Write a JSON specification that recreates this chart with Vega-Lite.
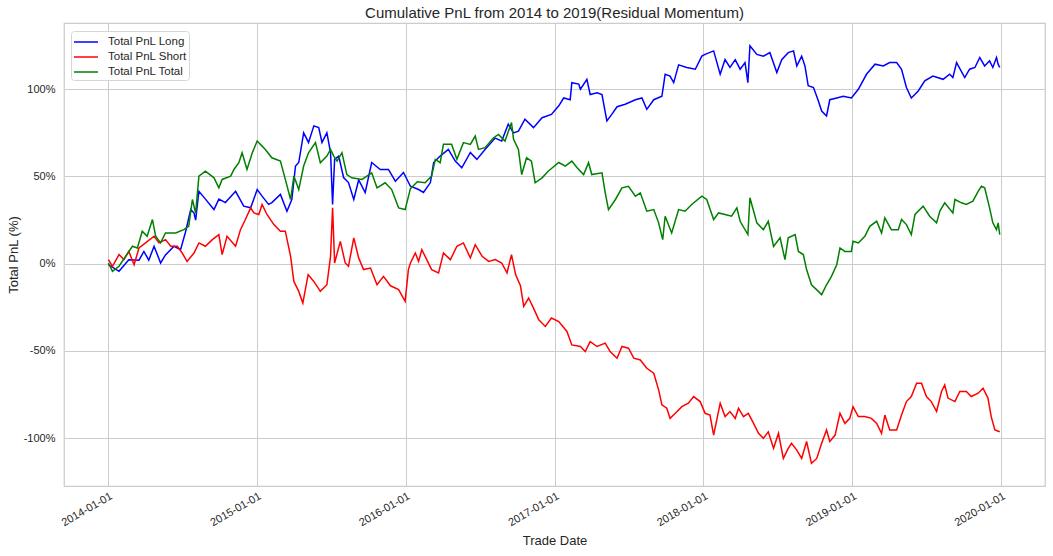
{
  "$schema": "https://vega.github.io/schema/vega-lite/v6.json",
  "width": 981,
  "height": 463,
  "autosize": {"type": "none"},
  "padding": {"left": 64, "top": 23, "right": 8, "bottom": 70},
  "background": "white",
  "config": {
    "font": "Liberation Sans",
    "view": {"stroke": "#cccccc", "strokeWidth": 1.25},
    "axis": {"domain": false, "ticks": false, "gridColor": "#cccccc", "gridWidth": 1, "labelColor": "#262626", "titleColor": "#262626", "labelFontSize": 11, "titleFontSize": 13, "titleFontWeight": "normal"}
  },
  "title": {"text": "Cumulative PnL from 2014 to 2019(Residual Momentum)", "fontSize": 15, "fontWeight": "normal", "color": "#262626", "offset": 2, "anchor": "middle"},
  "data": {"values": [
    {"d":"2014-01-02","s":"Long","v":-0.6},{"d":"2014-01-28","s":"Long","v":-4.4},{"d":"2014-02-21","s":"Long","v":2.3},{"d":"2014-03-18","s":"Long","v":2},{"d":"2014-03-30","s":"Long","v":7},{"d":"2014-04-11","s":"Long","v":2},{"d":"2014-04-24","s":"Long","v":10},{"d":"2014-05-10","s":"Long","v":0.4},{"d":"2014-05-22","s":"Long","v":5},{"d":"2014-06-12","s":"Long","v":10},{"d":"2014-06-28","s":"Long","v":8},{"d":"2014-07-10","s":"Long","v":18},{"d":"2014-07-23","s":"Long","v":31},{"d":"2014-07-31","s":"Long","v":29},{"d":"2014-08-04","s":"Long","v":25},{"d":"2014-08-12","s":"Long","v":41.5},{"d":"2014-08-28","s":"Long","v":37},{"d":"2014-09-18","s":"Long","v":31},{"d":"2014-09-30","s":"Long","v":37},{"d":"2014-10-16","s":"Long","v":35},{"d":"2014-11-10","s":"Long","v":41.5},{"d":"2014-11-30","s":"Long","v":33},{"d":"2014-12-17","s":"Long","v":32},
    {"d":"2015-01-02","s":"Long","v":42.5},{"d":"2015-01-14","s":"Long","v":38.7},{"d":"2015-01-30","s":"Long","v":34},{"d":"2015-02-07","s":"Long","v":35},{"d":"2015-02-28","s":"Long","v":39.7},{"d":"2015-03-16","s":"Long","v":30},{"d":"2015-03-28","s":"Long","v":36.8},{"d":"2015-04-06","s":"Long","v":56},{"d":"2015-04-14","s":"Long","v":58},{"d":"2015-04-26","s":"Long","v":75},{"d":"2015-05-08","s":"Long","v":69.5},{"d":"2015-05-21","s":"Long","v":79},{"d":"2015-06-02","s":"Long","v":78},{"d":"2015-06-10","s":"Long","v":69.5},{"d":"2015-06-22","s":"Long","v":75},{"d":"2015-07-01","s":"Long","v":63.8},{"d":"2015-07-06","s":"Long","v":34},{"d":"2015-07-11","s":"Long","v":59.8},{"d":"2015-07-21","s":"Long","v":61.7},{"d":"2015-08-02","s":"Long","v":49.4},{"d":"2015-08-14","s":"Long","v":46.5},{"d":"2015-08-27","s":"Long","v":36.8},{"d":"2015-09-08","s":"Long","v":48},{"d":"2015-09-24","s":"Long","v":40.8},{"d":"2015-10-10","s":"Long","v":58},{"d":"2015-10-31","s":"Long","v":54},{"d":"2015-11-20","s":"Long","v":54},{"d":"2015-12-07","s":"Long","v":47.3},{"d":"2015-12-27","s":"Long","v":52.3},
    {"d":"2016-01-13","s":"Long","v":44.4},{"d":"2016-02-02","s":"Long","v":42.5},{"d":"2016-02-14","s":"Long","v":40.8},{"d":"2016-03-02","s":"Long","v":46.5},{"d":"2016-03-10","s":"Long","v":58},{"d":"2016-03-26","s":"Long","v":61.7},{"d":"2016-04-15","s":"Long","v":65.5},{"d":"2016-05-02","s":"Long","v":58.8},{"d":"2016-05-18","s":"Long","v":55},{"d":"2016-06-08","s":"Long","v":63.8},{"d":"2016-06-24","s":"Long","v":59.8},{"d":"2016-07-14","s":"Long","v":65.5},{"d":"2016-08-08","s":"Long","v":72},{"d":"2016-08-24","s":"Long","v":70.3},{"d":"2016-09-09","s":"Long","v":80},{"d":"2016-09-22","s":"Long","v":75},{"d":"2016-10-04","s":"Long","v":76},{"d":"2016-10-20","s":"Long","v":82.8},{"d":"2016-11-10","s":"Long","v":78},{"d":"2016-12-01","s":"Long","v":83.7},{"d":"2016-12-24","s":"Long","v":85.6},
    {"d":"2017-01-11","s":"Long","v":90.5},{"d":"2017-01-23","s":"Long","v":95},{"d":"2017-02-08","s":"Long","v":94},{"d":"2017-02-12","s":"Long","v":103.8},{"d":"2017-03-01","s":"Long","v":103},{"d":"2017-03-05","s":"Long","v":100},{"d":"2017-03-21","s":"Long","v":105.7},{"d":"2017-03-29","s":"Long","v":97},{"d":"2017-04-15","s":"Long","v":98},{"d":"2017-04-27","s":"Long","v":97},{"d":"2017-05-09","s":"Long","v":81.8},{"d":"2017-05-21","s":"Long","v":85.6},{"d":"2017-06-03","s":"Long","v":90},{"d":"2017-06-23","s":"Long","v":91.4},{"d":"2017-07-18","s":"Long","v":94},{"d":"2017-08-03","s":"Long","v":95},{"d":"2017-08-15","s":"Long","v":88.5},{"d":"2017-09-01","s":"Long","v":94},{"d":"2017-09-21","s":"Long","v":96},{"d":"2017-09-29","s":"Long","v":108.6},{"d":"2017-10-11","s":"Long","v":107.6},{"d":"2017-10-20","s":"Long","v":103.8},{"d":"2017-11-01","s":"Long","v":114},{"d":"2017-11-21","s":"Long","v":112.5},{"d":"2017-12-12","s":"Long","v":111.5},{"d":"2017-12-28","s":"Long","v":119},
    {"d":"2018-01-05","s":"Long","v":120},{"d":"2018-01-26","s":"Long","v":122},{"d":"2018-02-11","s":"Long","v":108.6},{"d":"2018-02-23","s":"Long","v":117},{"d":"2018-03-07","s":"Long","v":112.5},{"d":"2018-03-20","s":"Long","v":117},{"d":"2018-04-01","s":"Long","v":111.5},{"d":"2018-04-13","s":"Long","v":115.3},{"d":"2018-04-20","s":"Long","v":103.8},{"d":"2018-04-25","s":"Long","v":125},{"d":"2018-05-12","s":"Long","v":120},{"d":"2018-05-28","s":"Long","v":119},{"d":"2018-06-13","s":"Long","v":121},{"d":"2018-06-30","s":"Long","v":109.6},{"d":"2018-07-12","s":"Long","v":117},{"d":"2018-07-28","s":"Long","v":121},{"d":"2018-08-10","s":"Long","v":122},{"d":"2018-08-18","s":"Long","v":113.4},{"d":"2018-08-30","s":"Long","v":119},{"d":"2018-09-07","s":"Long","v":113.4},{"d":"2018-09-15","s":"Long","v":102},{"d":"2018-09-28","s":"Long","v":101},{"d":"2018-10-10","s":"Long","v":93.3},{"d":"2018-10-18","s":"Long","v":87.5},{"d":"2018-10-30","s":"Long","v":84.7},{"d":"2018-11-07","s":"Long","v":94},{"d":"2018-11-24","s":"Long","v":95},{"d":"2018-12-10","s":"Long","v":96},{"d":"2018-12-30","s":"Long","v":95},
    {"d":"2019-01-16","s":"Long","v":100},{"d":"2019-02-05","s":"Long","v":108.6},{"d":"2019-02-26","s":"Long","v":114.4},{"d":"2019-03-18","s":"Long","v":113.4},{"d":"2019-04-03","s":"Long","v":115.3},{"d":"2019-04-20","s":"Long","v":115.3},{"d":"2019-05-02","s":"Long","v":111.5},{"d":"2019-05-14","s":"Long","v":101},{"d":"2019-05-26","s":"Long","v":95},{"d":"2019-06-12","s":"Long","v":99},{"d":"2019-06-28","s":"Long","v":104.8},{"d":"2019-07-18","s":"Long","v":107.6},{"d":"2019-08-12","s":"Long","v":105.7},{"d":"2019-08-28","s":"Long","v":108.6},{"d":"2019-09-05","s":"Long","v":106.7},{"d":"2019-09-14","s":"Long","v":115.3},{"d":"2019-10-04","s":"Long","v":106.7},{"d":"2019-10-16","s":"Long","v":111.5},{"d":"2019-10-29","s":"Long","v":112.5},{"d":"2019-11-10","s":"Long","v":118.2},{"d":"2019-11-22","s":"Long","v":113.4},{"d":"2019-12-04","s":"Long","v":116.3},{"d":"2019-12-12","s":"Long","v":112.5},{"d":"2019-12-21","s":"Long","v":118.2},{"d":"2019-12-25","s":"Long","v":114.4},{"d":"2019-12-29","s":"Long","v":112.5},

    {"d":"2014-01-02","s":"Short","v":2.3},{"d":"2014-01-12","s":"Short","v":-1.5},{"d":"2014-01-28","s":"Short","v":5.2},{"d":"2014-02-09","s":"Short","v":2.3},{"d":"2014-02-21","s":"Short","v":7},{"d":"2014-03-06","s":"Short","v":-0.6},{"d":"2014-03-18","s":"Short","v":9},{"d":"2014-04-03","s":"Short","v":11.9},{"d":"2014-04-24","s":"Short","v":15.7},{"d":"2014-05-06","s":"Short","v":11.9},{"d":"2014-05-22","s":"Short","v":13.8},{"d":"2014-06-04","s":"Short","v":10},{"d":"2014-06-20","s":"Short","v":10},{"d":"2014-07-02","s":"Short","v":6.1},{"d":"2014-07-14","s":"Short","v":1.3},{"d":"2014-07-31","s":"Short","v":6.1},{"d":"2014-08-12","s":"Short","v":11.9},{"d":"2014-08-28","s":"Short","v":10},{"d":"2014-09-14","s":"Short","v":13.8},{"d":"2014-09-30","s":"Short","v":16.7},{"d":"2014-10-08","s":"Short","v":5.2},{"d":"2014-10-20","s":"Short","v":15.7},{"d":"2014-11-10","s":"Short","v":10},{"d":"2014-11-22","s":"Short","v":19.5},{"d":"2014-12-04","s":"Short","v":25.3},{"d":"2014-12-17","s":"Short","v":32},{"d":"2014-12-25","s":"Short","v":29.1},
    {"d":"2015-01-06","s":"Short","v":28.2},{"d":"2015-01-14","s":"Short","v":33.9},{"d":"2015-01-26","s":"Short","v":28.2},{"d":"2015-02-12","s":"Short","v":22.4},{"d":"2015-02-28","s":"Short","v":18.6},{"d":"2015-03-12","s":"Short","v":18.6},{"d":"2015-03-25","s":"Short","v":4.2},{"d":"2015-04-02","s":"Short","v":-10.2},{"d":"2015-04-14","s":"Short","v":-15.9},{"d":"2015-04-24","s":"Short","v":-22.6},{"d":"2015-05-07","s":"Short","v":-6.3},{"d":"2015-05-21","s":"Short","v":-10.2},{"d":"2015-06-06","s":"Short","v":-15.9},{"d":"2015-06-22","s":"Short","v":-12.1},{"d":"2015-07-01","s":"Short","v":4.2},{"d":"2015-07-06","s":"Short","v":32},{"d":"2015-07-11","s":"Short","v":0.4},{"d":"2015-07-25","s":"Short","v":12.8},{"d":"2015-08-06","s":"Short","v":0.4},{"d":"2015-08-14","s":"Short","v":-1.5},{"d":"2015-08-27","s":"Short","v":14.8},{"d":"2015-09-08","s":"Short","v":3.3},{"d":"2015-09-20","s":"Short","v":-3.4},{"d":"2015-10-07","s":"Short","v":-2.5},{"d":"2015-10-23","s":"Short","v":-12.1},{"d":"2015-11-08","s":"Short","v":-7.3},{"d":"2015-11-25","s":"Short","v":-12.7},{"d":"2015-12-15","s":"Short","v":-14.9},{"d":"2015-12-31","s":"Short","v":-21.6},
    {"d":"2016-01-08","s":"Short","v":-3.4},{"d":"2016-01-13","s":"Short","v":0.4},{"d":"2016-01-25","s":"Short","v":6.1},{"d":"2016-02-02","s":"Short","v":1.3},{"d":"2016-02-10","s":"Short","v":8},{"d":"2016-02-22","s":"Short","v":2.3},{"d":"2016-03-05","s":"Short","v":-3.4},{"d":"2016-03-22","s":"Short","v":-5.3},{"d":"2016-04-03","s":"Short","v":6.1},{"d":"2016-04-20","s":"Short","v":2.3},{"d":"2016-05-06","s":"Short","v":10},{"d":"2016-05-22","s":"Short","v":11.9},{"d":"2016-06-08","s":"Short","v":3.3},{"d":"2016-06-20","s":"Short","v":10.9},{"d":"2016-07-07","s":"Short","v":4.2},{"d":"2016-07-23","s":"Short","v":1.3},{"d":"2016-08-08","s":"Short","v":2.3},{"d":"2016-08-24","s":"Short","v":0.4},{"d":"2016-09-06","s":"Short","v":-5.3},{"d":"2016-09-17","s":"Short","v":5.2},{"d":"2016-09-27","s":"Short","v":-6.3},{"d":"2016-10-09","s":"Short","v":-12.7},{"d":"2016-10-17","s":"Short","v":-24.5},{"d":"2016-10-29","s":"Short","v":-19.7},{"d":"2016-11-10","s":"Short","v":-25.5},{"d":"2016-11-23","s":"Short","v":-32.2},{"d":"2016-12-09","s":"Short","v":-36},{"d":"2016-12-24","s":"Short","v":-31.2},
    {"d":"2017-01-11","s":"Short","v":-33.2},{"d":"2017-01-31","s":"Short","v":-38.9},{"d":"2017-02-12","s":"Short","v":-46.6},{"d":"2017-03-05","s":"Short","v":-47.5},{"d":"2017-03-17","s":"Short","v":-50.4},{"d":"2017-03-29","s":"Short","v":-44.7},{"d":"2017-04-15","s":"Short","v":-47.5},{"d":"2017-05-05","s":"Short","v":-45.6},{"d":"2017-05-17","s":"Short","v":-50.4},{"d":"2017-06-03","s":"Short","v":-54.2},{"d":"2017-06-15","s":"Short","v":-47.5},{"d":"2017-07-01","s":"Short","v":-48.5},{"d":"2017-07-14","s":"Short","v":-54.2},{"d":"2017-07-30","s":"Short","v":-55.2},{"d":"2017-08-15","s":"Short","v":-60},{"d":"2017-09-01","s":"Short","v":-62.8},{"d":"2017-09-13","s":"Short","v":-72.4},{"d":"2017-09-21","s":"Short","v":-81},{"d":"2017-10-03","s":"Short","v":-82.9},{"d":"2017-10-11","s":"Short","v":-88.7},{"d":"2017-10-24","s":"Short","v":-85.8},{"d":"2017-11-09","s":"Short","v":-82},{"d":"2017-11-25","s":"Short","v":-80},{"d":"2017-12-08","s":"Short","v":-76.2},{"d":"2017-12-24","s":"Short","v":-79.1},
    {"d":"2018-01-05","s":"Short","v":-85.8},{"d":"2018-01-17","s":"Short","v":-86.8},{"d":"2018-01-26","s":"Short","v":-98.3},{"d":"2018-02-11","s":"Short","v":-80},{"d":"2018-02-23","s":"Short","v":-87.7},{"d":"2018-03-07","s":"Short","v":-84.8},{"d":"2018-03-20","s":"Short","v":-88.7},{"d":"2018-03-28","s":"Short","v":-82.9},{"d":"2018-04-09","s":"Short","v":-87.7},{"d":"2018-04-21","s":"Short","v":-85.8},{"d":"2018-05-04","s":"Short","v":-91.6},{"d":"2018-05-16","s":"Short","v":-97.3},{"d":"2018-05-28","s":"Short","v":-100.2},{"d":"2018-06-09","s":"Short","v":-96.4},{"d":"2018-06-22","s":"Short","v":-105.9},{"d":"2018-07-04","s":"Short","v":-97.3},{"d":"2018-07-16","s":"Short","v":-111.7},{"d":"2018-07-28","s":"Short","v":-105.9},{"d":"2018-08-05","s":"Short","v":-103},{"d":"2018-08-18","s":"Short","v":-106.9},{"d":"2018-08-30","s":"Short","v":-111.7},{"d":"2018-09-11","s":"Short","v":-102},{"d":"2018-09-23","s":"Short","v":-114.5},{"d":"2018-10-06","s":"Short","v":-111.7},{"d":"2018-10-18","s":"Short","v":-103},{"d":"2018-10-30","s":"Short","v":-95.4},{"d":"2018-11-07","s":"Short","v":-102},{"d":"2018-11-20","s":"Short","v":-98.3},{"d":"2018-12-02","s":"Short","v":-85.8},{"d":"2018-12-14","s":"Short","v":-91.6},{"d":"2018-12-26","s":"Short","v":-88.7},
    {"d":"2019-01-03","s":"Short","v":-82},{"d":"2019-01-16","s":"Short","v":-87.7},{"d":"2019-02-01","s":"Short","v":-87.7},{"d":"2019-02-17","s":"Short","v":-88.7},{"d":"2019-03-02","s":"Short","v":-91.6},{"d":"2019-03-14","s":"Short","v":-97.3},{"d":"2019-03-22","s":"Short","v":-86.8},{"d":"2019-04-03","s":"Short","v":-95.4},{"d":"2019-04-20","s":"Short","v":-95.4},{"d":"2019-05-02","s":"Short","v":-86.8},{"d":"2019-05-14","s":"Short","v":-79.1},{"d":"2019-05-26","s":"Short","v":-76.2},{"d":"2019-06-08","s":"Short","v":-68.6},{"d":"2019-06-20","s":"Short","v":-68.6},{"d":"2019-07-02","s":"Short","v":-76.2},{"d":"2019-07-14","s":"Short","v":-79.1},{"d":"2019-07-27","s":"Short","v":-84.8},{"d":"2019-08-08","s":"Short","v":-73.3},{"d":"2019-08-16","s":"Short","v":-69.5},{"d":"2019-08-24","s":"Short","v":-77.1},{"d":"2019-09-10","s":"Short","v":-79.1},{"d":"2019-09-22","s":"Short","v":-73.3},{"d":"2019-10-08","s":"Short","v":-73.3},{"d":"2019-10-20","s":"Short","v":-76.2},{"d":"2019-11-06","s":"Short","v":-74.3},{"d":"2019-11-18","s":"Short","v":-71.4},{"d":"2019-11-30","s":"Short","v":-77.1},{"d":"2019-12-08","s":"Short","v":-87.7},{"d":"2019-12-17","s":"Short","v":-95.4},{"d":"2019-12-29","s":"Short","v":-96.4},

    {"d":"2014-01-02","s":"Total","v":0.4},{"d":"2014-01-12","s":"Total","v":-4.4},{"d":"2014-01-28","s":"Total","v":-1.5},{"d":"2014-02-13","s":"Total","v":4.2},{"d":"2014-03-02","s":"Total","v":10},{"d":"2014-03-14","s":"Total","v":9},{"d":"2014-03-26","s":"Total","v":18.6},{"d":"2014-04-07","s":"Total","v":15.7},{"d":"2014-04-20","s":"Total","v":25.3},{"d":"2014-04-28","s":"Total","v":15.7},{"d":"2014-05-10","s":"Total","v":11.9},{"d":"2014-05-22","s":"Total","v":17.6},{"d":"2014-06-16","s":"Total","v":17.6},{"d":"2014-07-06","s":"Total","v":19.5},{"d":"2014-07-18","s":"Total","v":21.4},{"d":"2014-07-27","s":"Total","v":36.8},{"d":"2014-08-04","s":"Total","v":29},{"d":"2014-08-12","s":"Total","v":50.2},{"d":"2014-08-28","s":"Total","v":53},{"d":"2014-09-18","s":"Total","v":49.2},{"d":"2014-09-30","s":"Total","v":43.5},{"d":"2014-10-08","s":"Total","v":48.3},{"d":"2014-10-29","s":"Total","v":50.2},{"d":"2014-11-06","s":"Total","v":54},{"d":"2014-11-18","s":"Total","v":57.9},{"d":"2014-11-26","s":"Total","v":63.6},{"d":"2014-12-08","s":"Total","v":54},{"d":"2014-12-21","s":"Total","v":63.6},
    {"d":"2015-01-02","s":"Total","v":70.3},{"d":"2015-01-14","s":"Total","v":67.4},{"d":"2015-01-22","s":"Total","v":65.5},{"d":"2015-02-07","s":"Total","v":60.7},{"d":"2015-02-28","s":"Total","v":58.8},{"d":"2015-03-12","s":"Total","v":48.3},{"d":"2015-03-25","s":"Total","v":36.8},{"d":"2015-04-02","s":"Total","v":50.2},{"d":"2015-04-14","s":"Total","v":42.5},{"d":"2015-04-26","s":"Total","v":56},{"d":"2015-05-08","s":"Total","v":63.6},{"d":"2015-05-25","s":"Total","v":69.4},{"d":"2015-06-06","s":"Total","v":57.9},{"d":"2015-06-22","s":"Total","v":61.7},{"d":"2015-07-01","s":"Total","v":65.5},{"d":"2015-07-09","s":"Total","v":61.7},{"d":"2015-07-17","s":"Total","v":58.8},{"d":"2015-07-29","s":"Total","v":63.6},{"d":"2015-08-10","s":"Total","v":51.1},{"d":"2015-08-22","s":"Total","v":49.2},{"d":"2015-09-16","s":"Total","v":48.3},{"d":"2015-10-10","s":"Total","v":52.1},{"d":"2015-10-23","s":"Total","v":43.5},{"d":"2015-11-12","s":"Total","v":46.4},{"d":"2015-11-28","s":"Total","v":42.5},{"d":"2015-12-15","s":"Total","v":32},{"d":"2015-12-31","s":"Total","v":31},
    {"d":"2016-01-13","s":"Total","v":43},{"d":"2016-01-30","s":"Total","v":47},{"d":"2016-02-18","s":"Total","v":46.4},{"d":"2016-03-05","s":"Total","v":50.2},{"d":"2016-03-14","s":"Total","v":59.8},{"d":"2016-03-26","s":"Total","v":57.9},{"d":"2016-04-03","s":"Total","v":68.4},{"d":"2016-04-23","s":"Total","v":68.4},{"d":"2016-05-06","s":"Total","v":59.8},{"d":"2016-05-22","s":"Total","v":69.4},{"d":"2016-06-08","s":"Total","v":68.4},{"d":"2016-06-20","s":"Total","v":73.2},{"d":"2016-06-28","s":"Total","v":65.5},{"d":"2016-07-14","s":"Total","v":66.5},{"d":"2016-08-04","s":"Total","v":72.2},{"d":"2016-08-16","s":"Total","v":74.1},{"d":"2016-09-01","s":"Total","v":70.3},{"d":"2016-09-17","s":"Total","v":80.9},{"d":"2016-09-22","s":"Total","v":71.3},{"d":"2016-10-04","s":"Total","v":65.5},{"d":"2016-10-12","s":"Total","v":51.1},{"d":"2016-10-24","s":"Total","v":60.7},{"d":"2016-11-05","s":"Total","v":58.8},{"d":"2016-11-14","s":"Total","v":46.4},{"d":"2016-12-01","s":"Total","v":49.2},{"d":"2016-12-16","s":"Total","v":53},
    {"d":"2017-01-11","s":"Total","v":58},{"d":"2017-01-27","s":"Total","v":55.9},{"d":"2017-02-12","s":"Total","v":58.8},{"d":"2017-02-25","s":"Total","v":55},{"d":"2017-03-13","s":"Total","v":51.1},{"d":"2017-03-25","s":"Total","v":57.9},{"d":"2017-04-02","s":"Total","v":51.1},{"d":"2017-04-27","s":"Total","v":52.1},{"d":"2017-05-05","s":"Total","v":40.6},{"d":"2017-05-13","s":"Total","v":31},{"d":"2017-05-30","s":"Total","v":36.8},{"d":"2017-06-15","s":"Total","v":43.5},{"d":"2017-07-01","s":"Total","v":44.4},{"d":"2017-07-18","s":"Total","v":38.7},{"d":"2017-07-30","s":"Total","v":40.6},{"d":"2017-08-15","s":"Total","v":30.1},{"d":"2017-09-01","s":"Total","v":31},{"d":"2017-09-13","s":"Total","v":23.4},{"d":"2017-09-23","s":"Total","v":13.8},{"d":"2017-09-29","s":"Total","v":27.2},{"d":"2017-10-15","s":"Total","v":17.6},{"d":"2017-11-01","s":"Total","v":31},{"d":"2017-11-17","s":"Total","v":30.1},{"d":"2017-12-03","s":"Total","v":33.9},{"d":"2017-12-28","s":"Total","v":38.7},
    {"d":"2018-01-09","s":"Total","v":36.8},{"d":"2018-01-26","s":"Total","v":25.3},{"d":"2018-02-07","s":"Total","v":29.1},{"d":"2018-02-23","s":"Total","v":28.2},{"d":"2018-03-11","s":"Total","v":27.2},{"d":"2018-03-24","s":"Total","v":32},{"d":"2018-04-01","s":"Total","v":24.3},{"d":"2018-04-20","s":"Total","v":16.7},{"d":"2018-04-25","s":"Total","v":37.8},{"d":"2018-05-12","s":"Total","v":23.4},{"d":"2018-05-28","s":"Total","v":19.5},{"d":"2018-06-09","s":"Total","v":24.3},{"d":"2018-06-22","s":"Total","v":9.9},{"d":"2018-07-08","s":"Total","v":14.8},{"d":"2018-07-20","s":"Total","v":2.3},{"d":"2018-07-28","s":"Total","v":14.8},{"d":"2018-08-14","s":"Total","v":16.7},{"d":"2018-08-22","s":"Total","v":7},{"d":"2018-09-03","s":"Total","v":5.2},{"d":"2018-09-11","s":"Total","v":-3.4},{"d":"2018-09-23","s":"Total","v":-12.1},{"d":"2018-10-10","s":"Total","v":-15.9},{"d":"2018-10-18","s":"Total","v":-17.8},{"d":"2018-10-30","s":"Total","v":-12.1},{"d":"2018-11-11","s":"Total","v":-7.3},{"d":"2018-11-24","s":"Total","v":-0.6},{"d":"2018-12-02","s":"Total","v":9},{"d":"2018-12-14","s":"Total","v":7},{"d":"2018-12-30","s":"Total","v":7},
    {"d":"2019-01-03","s":"Total","v":12.8},{"d":"2019-01-16","s":"Total","v":11.9},{"d":"2019-02-01","s":"Total","v":15.7},{"d":"2019-02-13","s":"Total","v":21.4},{"d":"2019-03-02","s":"Total","v":24.3},{"d":"2019-03-14","s":"Total","v":17.6},{"d":"2019-03-22","s":"Total","v":26.2},{"d":"2019-04-07","s":"Total","v":19.5},{"d":"2019-04-24","s":"Total","v":19.5},{"d":"2019-05-02","s":"Total","v":25.3},{"d":"2019-05-14","s":"Total","v":22.4},{"d":"2019-05-26","s":"Total","v":16.7},{"d":"2019-06-04","s":"Total","v":28.2},{"d":"2019-06-24","s":"Total","v":33},{"d":"2019-07-10","s":"Total","v":27.2},{"d":"2019-07-27","s":"Total","v":23.4},{"d":"2019-08-04","s":"Total","v":30.1},{"d":"2019-08-16","s":"Total","v":34.9},{"d":"2019-09-05","s":"Total","v":29.1},{"d":"2019-09-10","s":"Total","v":36.8},{"d":"2019-09-26","s":"Total","v":34.9},{"d":"2019-10-08","s":"Total","v":33.9},{"d":"2019-10-24","s":"Total","v":35.8},{"d":"2019-11-06","s":"Total","v":41.5},{"d":"2019-11-14","s":"Total","v":44.4},{"d":"2019-11-22","s":"Total","v":43.5},{"d":"2019-12-04","s":"Total","v":32},{"d":"2019-12-12","s":"Total","v":23.4},{"d":"2019-12-21","s":"Total","v":19.5},{"d":"2019-12-25","s":"Total","v":23.4},{"d":"2019-12-29","s":"Total","v":16.7}
  ]},
  "mark": {"type": "line", "strokeWidth": 1.5, "interpolate": "linear"},
  "encoding": {
    "x": {
      "field": "d", "type": "temporal",
      "scale": {"type": "utc", "domain": ["2013-09-15", "2020-04-18"]},
      "axis": {
        "title": "Trade Date",
        "format": "%Y-%m-%d",
        "values": [
          {"year": 2014, "month": 1, "date": 1, "utc": true},
          {"year": 2015, "month": 1, "date": 1, "utc": true},
          {"year": 2016, "month": 1, "date": 1, "utc": true},
          {"year": 2017, "month": 1, "date": 1, "utc": true},
          {"year": 2018, "month": 1, "date": 1, "utc": true},
          {"year": 2019, "month": 1, "date": 1, "utc": true},
          {"year": 2020, "month": 1, "date": 1, "utc": true}
        ],
        "labelAngle": -30,
        "labelAlign": "right",
        "labelBaseline": "top",
        "labelPadding": 4,
        "titlePadding": 7
      }
    },
    "y": {
      "field": "v", "type": "quantitative",
      "scale": {"domain": [-127.5, 138], "nice": false, "zero": false},
      "axis": {
        "title": "Total PnL (%)",
        "values": [-100, -50, 0, 50, 100],
        "labelExpr": "datum.value + '%'",
        "labelPadding": 9,
        "titlePadding": 3
      }
    },
    "color": {
      "field": "s", "type": "nominal",
      "scale": {"domain": ["Long", "Short", "Total"], "range": ["#0000ff", "#ff0000", "#008000"]},
      "legend": {
        "title": null,
        "orient": "none",
        "legendX": 7,
        "legendY": 8,
        "labelExpr": "'Total PnL ' + datum.label",
        "symbolType": "M-1.5,0H1.5",
        "symbolSize": 256,
        "symbolStrokeWidth": 1.5,
        "symbolOffset": 4,
        "labelFontSize": 11.5,
        "labelColor": "#262626",
        "labelOffset": 13,
        "rowPadding": 0,
        "padding": 2,
        "fillColor": "white",
        "strokeColor": "#d6d6d6",
        "cornerRadius": 3
      }
    }
  }
}
